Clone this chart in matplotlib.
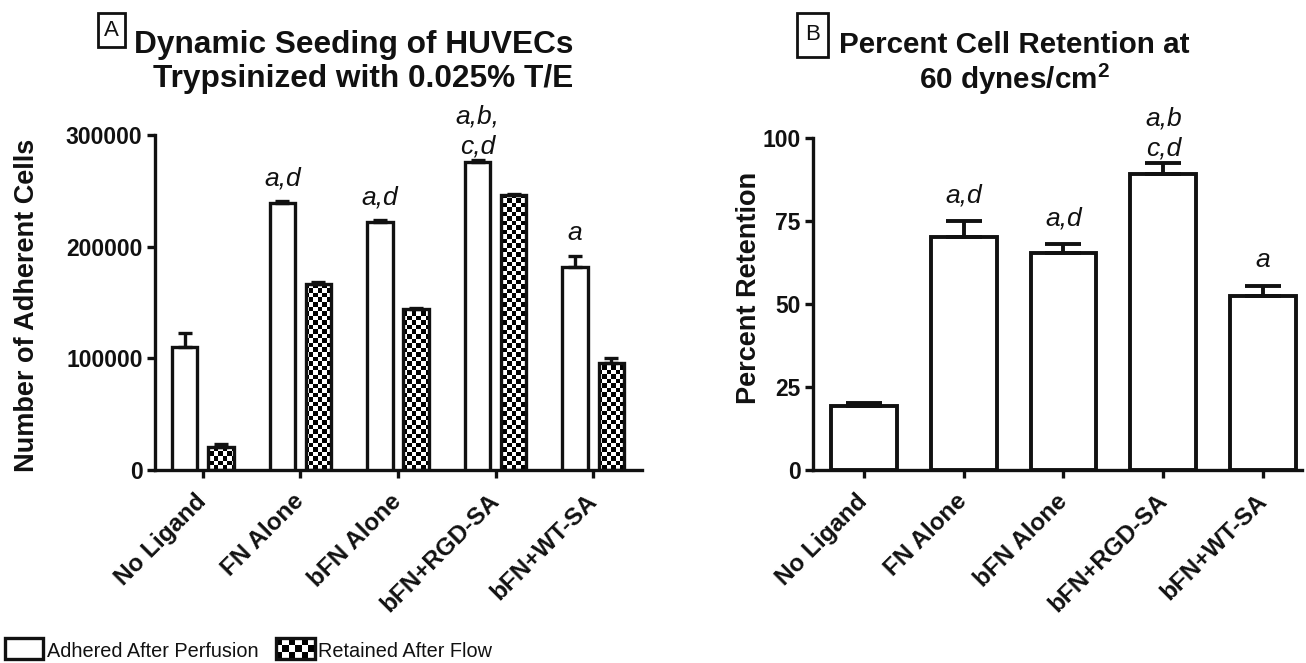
import numpy as np
import matplotlib
matplotlib.use("Agg")
import matplotlib.pyplot as plt
from matplotlib.patches import Rectangle

# ---------------- data ----------------
categories = ["No Ligand", "FN Alone", "bFN Alone", "bFN+RGD-SA", "bFN+WT-SA"]

adhered = [110000, 239000, 222000, 276000, 182000]
adhered_err = [13000, 1500, 1500, 1500, 9500]
retained = [21000, 167000, 144000, 246000, 96000]
retained_err = [2000, 1000, 1000, 1000, 4500]
left_sig = ["", "a,d", "a,d", "a,b,\nc,d", "a"]
left_ticks = [0, 100000, 200000, 300000]

retention = [19.2, 70.2, 65.4, 89.2, 52.4]
retention_err = [0.9, 4.8, 2.7, 3.3, 3.0]
right_sig = ["", "a,d", "a,d", "a,b\nc,d", "a"]
right_ticks = [0, 25, 50, 75, 100]

legend_labels = ["Adhered After Perfusion", "Retained After Flow"]

# ---------------- style ----------------
plt.rcParams['font.family'] = ['Liberation Sans', 'DejaVu Sans']
plt.rcParams['mathtext.fontset'] = 'custom'
plt.rcParams['mathtext.rm'] = 'Liberation Sans'
plt.rcParams['mathtext.bf'] = 'Liberation Sans:bold'

LW = 2.4
INK = '#111111'
W, H = 1306, 663
fig = plt.figure(figsize=(W / 100, H / 100), dpi=100)


def checker(nx, ny):
    return (np.indices((ny, nx)).sum(axis=0) % 2).astype(float)


def style_axes(ax, ticks):
    for s in ['top', 'right']:
        ax.spines[s].set_visible(False)
    for s in ['left', 'bottom']:
        ax.spines[s].set_linewidth(LW)
        ax.spines[s].set_color(INK)
    ax.set_yticks(ticks)
    ax.set_yticklabels([str(t) for t in ticks], fontsize=16.5, fontweight='bold', color=INK)
    x = np.arange(len(categories))
    ax.set_xticks(x)
    ax.set_xticklabels(categories, rotation=45, ha='right', va='center',
                       rotation_mode='anchor', fontsize=17.5, fontweight='bold', color=INK)
    ax.tick_params(axis='both', width=LW, length=6, color=INK)
    ax.tick_params(axis='y', pad=3)
    ax.tick_params(axis='x', pad=14)


def annotate(ax, xs, tops, labels, off_single, off_multi):
    for xi, t, s in zip(xs, tops, labels):
        if not s:
            continue
        off = off_multi if "\n" in s else off_single
        ax.annotate(s, xy=(xi, t), xytext=(0, off), textcoords='offset points',
                    ha='center', va='bottom', fontsize=19, style='italic',
                    linespacing=1.3, color=INK)


x = np.arange(len(categories))

# ---------------- left panel ----------------
axL = fig.add_axes([155 / W, (H - 470) / H, (642 - 155) / W, (470 - 135) / H])
off, bw = 0.185, 0.26
xlimL = (-0.49, 4.5)
ylimL = (0, 300000)

axL.bar(x - off, adhered, bw, facecolor='white', edgecolor=INK, linewidth=LW, zorder=3)
bars_ret = axL.bar(x + off, retained, bw, facecolor='none', edgecolor=INK,
                   linewidth=LW, zorder=3)
cb = checker(108, 74)
for b in bars_ret:
    im = axL.imshow(cb, cmap='gray', interpolation='nearest', aspect='auto',
                    extent=(xlimL[0], xlimL[1], ylimL[0], ylimL[1]), zorder=2)
    im.set_clip_path(b)

axL.errorbar(x - off, adhered, yerr=[np.zeros(len(x)), adhered_err], fmt='none',
             ecolor=INK, elinewidth=LW, capsize=4.7, capthick=LW, zorder=4)
axL.errorbar(x + off, retained, yerr=[np.zeros(len(x)), retained_err], fmt='none',
             ecolor=INK, elinewidth=LW, capsize=4.7, capthick=LW, zorder=4)
annotate(axL, x - off, np.add(adhered, adhered_err), left_sig, 8, 1.5)
axL.set_xlim(*xlimL)
axL.set_ylim(*ylimL)
style_axes(axL, left_ticks)
axL.set_ylabel("Number of Adherent Cells", fontsize=19.5, fontweight='bold', color=INK)
axL.yaxis.set_label_coords(-0.236, 0.49)

# ---------------- right panel ----------------
axR = fig.add_axes([813 / W, (H - 470) / H, (1302 - 813) / W, (470 - 138) / H])
axR.bar(x, retention, 0.66, facecolor='white', edgecolor=INK, linewidth=2.8, zorder=3)
axR.errorbar(x, retention, yerr=[np.zeros(len(x)), retention_err], fmt='none',
             ecolor=INK, elinewidth=2.8, capsize=13, capthick=2.8, zorder=4)
annotate(axR, x, np.add(retention, retention_err), right_sig, 10, 2)
axR.set_xlim(-0.51, 4.39)
axR.set_ylim(0, 100)
style_axes(axR, right_ticks)
axR.set_ylabel("Percent Retention", fontsize=19.5, fontweight='bold', color=INK)
axR.yaxis.set_label_coords(-0.104, 0.548)

# ---------------- overlay: titles, panel letters, legend ----------------
ov = fig.add_axes([0, 0, 1, 1])
ov.axis('off')
ov.patch.set_visible(False)

tkw = dict(ha='center', va='baseline', fontweight='bold', color=INK)
ov.text(354, 53, "Dynamic Seeding of HUVECs", fontsize=22.8, **tkw)
ov.text(363, 87, "Trypsinized with 0.025% T/E", fontsize=22.8, **tkw)
ov.text(1014, 53, "Percent Cell Retention at", fontsize=21.3, **tkw)
ov.text(1014, 89, r"60 dynes/cm$^{\mathbf{2}}$", fontsize=21.3, **tkw)

ov.add_patch(Rectangle((98, 13), 27, 34, fill=False, ec=INK, lw=2))
ov.text(111.5, 31, "A", ha='center', va='center', fontsize=16, color=INK)
ov.add_patch(Rectangle((797, 13), 31, 44, fill=False, ec=INK, lw=2))
ov.text(812.5, 35, "B", ha='center', va='center', fontsize=16, color=INK)

# legend
ov.add_patch(Rectangle((5, 638), 38, 21, fc='white', ec=INK, lw=LW))
leg_box = Rectangle((276, 638), 39, 21, fc='none', ec=INK, lw=LW, zorder=3)
ov.add_patch(leg_box)
iml = ov.imshow(checker(6, 3), cmap='gray', interpolation='nearest', aspect='auto',
                extent=(276, 315, 659, 638), zorder=2)
iml.set_clip_path(leg_box)
ov.set_xlim(0, W)
ov.set_ylim(H, 0)
lkw = dict(ha='left', va='baseline', fontsize=14.3, color=INK)
ov.text(47, 657, legend_labels[0], **lkw)
ov.text(318, 657, legend_labels[1], **lkw)

fig.savefig("out.png", dpi=100)
